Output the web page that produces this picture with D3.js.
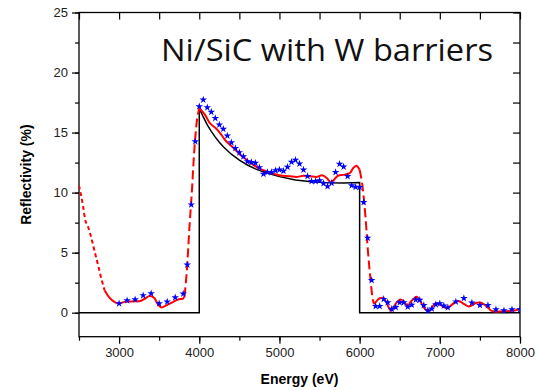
<!DOCTYPE html>
<html>
<head>
<meta charset="utf-8">
<script src="https://cdn.jsdelivr.net/npm/d3@7"></script>
<style>
  body { margin: 0; background: #fff; }
  svg { display: block; }
</style>
</head>
<body>
<svg width="537" height="390"></svg>
<script>
// measured points (stars)
var starE = [3000, 3100, 3200, 3300, 3400, 3500, 3600, 3700, 3800, 3850, 3900, 3950,
    4000, 4050, 4100, 4150, 4200, 4250, 4300, 4350, 4400, 4450, 4500, 4550, 4600, 4650,
    4700, 4750, 4800, 4850, 4900, 4950, 5000, 5050, 5100, 5150, 5200, 5250, 5300, 5350,
    5400, 5450, 5500, 5550, 5600, 5650, 5700, 5750, 5800, 5850, 5900, 5950, 6000, 6050,
    6100, 6150, 6200, 6250, 6300, 6350, 6400, 6450, 6500, 6550, 6600, 6650, 6700, 6750,
    6800, 6850, 6900, 6950, 7000, 7050, 7100, 7200, 7300, 7400, 7500, 7600, 7700, 7800,
    7900, 8000];
var starR = [0.77, 1.02, 1.1, 1.44, 1.6, 0.77, 0.91, 1.27, 1.58, 3.99, 9.0, 14.26,
    17.17, 17.73, 17.09, 16.71, 16.2, 15.65, 15.29, 14.74, 14.18, 13.7, 13.35, 13.0, 12.6, 12.52,
    12.47, 12.1, 11.55, 11.69, 11.69, 11.85, 11.91, 11.8, 12.13, 12.55, 12.72, 12.41, 11.91, 11.36,
    10.94, 10.94, 11.0, 10.77, 10.52, 10.8, 11.69, 12.39, 12.16, 11.36, 10.6, 10.47, 10.44, 9.19,
    6.23, 2.7, 0.53, 0.53, 1.13, 0.85, 0.3, 0.45, 0.85, 0.85, 0.5, 0.65, 1.07, 1.05,
    0.61, 0.19, 0.33, 0.68, 0.77, 0.58, 0.43, 0.92, 1.2, 0.83, 0.62, 0.62, 0.26, 0.19,
    0.27, 0.27];

// ideal model (black)
var idealE = [2500, 4000, 4000, 4050, 4100, 4150, 4200, 4250, 4300, 4400, 4500, 4600, 4700,
    4800, 4900, 5000, 5200, 5400, 5600, 5800, 6000, 6000, 8000];
var idealR = [0, 0, 17.0, 16.3, 15.65, 15.1, 14.62, 14.2, 13.82, 13.2, 12.7, 12.3, 11.98,
    11.73, 11.52, 11.33, 11.05, 10.9, 10.82, 10.8, 10.85, 0, 0];

// fitted curve (red), split into dashed and solid pieces
var fit1E = [2500, 2550, 2575, 2610, 2655, 2695, 2740, 2780, 2820];
var fit1R = [10.6, 8.9, 7.8, 7.2, 6.2, 5.1, 3.9, 2.8, 1.85];
var fit2E = [2820, 2880, 2945, 3000, 3070, 3150, 3255, 3320, 3380, 3435, 3485, 3527, 3590,
    3670, 3735, 3795, 3817];
var fit2R = [1.85, 1.25, 0.88, 0.77, 0.9, 0.94, 0.96, 1.16, 1.38, 1.25, 0.69, 0.44, 0.61,
    0.88, 1.1, 1.16, 1.38];
var fit3E = [3817, 3850, 3880, 3905, 3933, 3967, 4000];
var fit3R = [1.38, 4.0, 7.4, 9.8, 13.0, 15.8, 17.0];
var fit4E = [4000, 4070, 4130, 4200, 4260, 4320, 4380, 4450, 4510, 4590, 4670, 4760, 4840,
    4920, 5000, 5090, 5130, 5210, 5300, 5380, 5460, 5530, 5590, 5640, 5670, 5730, 5815, 5880,
    5920, 5960, 6000];
var fit4R = [17.0, 16.5, 15.8, 15.4, 14.96, 14.4, 14.0, 13.57, 13.16, 12.74, 12.33, 11.97, 11.77,
    11.58, 11.45, 11.38, 11.36, 11.3, 11.41, 11.36, 11.3, 11.44, 11.22, 10.86, 11.0, 11.41, 11.5, 11.64,
    12.05, 12.24, 11.9];
var fit5E = [6000, 6040, 6075, 6105, 6135, 6160, 6180];
var fit5R = [11.9, 10.3, 7.8, 5.0, 2.8, 1.25, 0.7];
var fit6E = [6180, 6210, 6250, 6290, 6335, 6375, 6400, 6420, 6460, 6510, 6545, 6585, 6606,
    6625, 6665, 6708, 6750, 6790, 6830, 6870, 6910, 6950, 7020, 7085, 7130, 7190, 7230, 7310,
    7360, 7460, 7500, 7580, 7645, 7710, 7830, 7940, 8000];
var fit6R = [0.7, 0.96, 1.2, 1.25, 0.83, 0.27, 0.15, 0.4, 0.83, 1.1, 0.96, 0.65, 0.5,
    0.8, 1.1, 1.33, 1.05, 0.55, 0.22, 0.15, 0.5, 0.8, 0.61, 0.38, 0.55, 0.88, 0.98, 0.69,
    0.52, 0.83, 0.85, 0.55, 0.15, 0.08, 0.13, 0.19, 0.33];

var xTicks = [3000, 4000, 5000, 6000, 7000, 8000];
var yTicks = [0, 5, 10, 15, 20, 25];
var titleText = "Ni/SiC with W barriers";

var svg = d3.select("svg");
var margin = { left: 79, right: 17, top: 12.5, bottom: 53.3 };
var width = 537 - margin.left - margin.right;
var height = 390 - margin.top - margin.bottom;

var x = d3.scaleLinear().domain([2500, 8000]).range([0, width]);
var y = d3.scaleLinear().domain([-2, 25]).range([height, 0]);

var g = svg.append("g").attr("transform", "translate(" + margin.left + "," + margin.top + ")");

g.append("clipPath").attr("id", "clip")
    .append("rect").attr("width", width).attr("height", height);

function pairs(xs, ys) {
    return xs.map(function (d, i) { return [d, ys[i]]; });
}

// axes
var minorX = d3.range(2500, 8001, 500);
var minorY = d3.range(-2.5, 25.1, 2.5).filter(function (d) { return d >= -2; });

function styleAxis(sel) {
    sel.select(".domain").remove();
    sel.selectAll("line").attr("stroke", "#000").attr("stroke-width", 1.2);
    sel.selectAll("text").attr("fill", "#222").attr("font-family", "Liberation Sans, Arial, sans-serif").attr("font-size", 13);
}

g.append("g").attr("transform", "translate(0," + height + ")")
    .call(d3.axisBottom(x).tickValues(minorX).tickSize(4).tickFormat(""))
    .call(styleAxis);
g.append("g").attr("transform", "translate(0," + height + ")")
    .call(d3.axisBottom(x).tickValues(xTicks).tickSize(7).tickPadding(4).tickFormat(d3.format("d")))
    .call(styleAxis);

g.append("g")
    .call(d3.axisLeft(y).tickValues(minorY).tickSize(4).tickFormat(""))
    .call(styleAxis);
g.append("g")
    .call(d3.axisLeft(y).tickValues(yTicks).tickSize(7).tickPadding(4).tickFormat(d3.format("d")))
    .call(styleAxis);

// top and right ticks point inward
g.append("g")
    .call(d3.axisBottom(x).tickValues(minorX).tickSize(7).tickFormat(""))
    .call(styleAxis);
g.append("g").attr("transform", "translate(" + width + ",0)")
    .call(d3.axisLeft(y).tickValues(minorY.filter(function (d) { return d > 0; })).tickSize(7).tickFormat(""))
    .call(styleAxis);

g.append("rect")
    .attr("width", width).attr("height", height)
    .attr("fill", "none").attr("stroke", "#000").attr("stroke-width", 1.3);

var plot = g.append("g").attr("clip-path", "url(#clip)");

var line = d3.line().x(function (d) { return x(d[0]); }).y(function (d) { return y(d[1]); });
var smooth = d3.line().curve(d3.curveMonotoneX)
    .x(function (d) { return x(d[0]); }).y(function (d) { return y(d[1]); });

plot.append("path")
    .datum(pairs(idealE, idealR))
    .attr("d", line)
    .attr("fill", "none").attr("stroke", "#000").attr("stroke-width", 1.5);

var fits = [
    { e: fit1E, r: fit1R, dash: "4,3" },
    { e: fit2E, r: fit2R, dash: null },
    { e: fit3E, r: fit3R, dash: "9,4" },
    { e: fit4E, r: fit4R, dash: null },
    { e: fit5E, r: fit5R, dash: "9,4" },
    { e: fit6E, r: fit6R, dash: null }
];
fits.forEach(function (f) {
    plot.append("path")
        .datum(pairs(f.e, f.r))
        .attr("d", smooth)
        .attr("fill", "none").attr("stroke", "#ff0000").attr("stroke-width", 2)
        .attr("stroke-dasharray", f.dash);
});

plot.selectAll(".star")
    .data(pairs(starE, starR))
    .enter().append("path")
    .attr("class", "star")
    .attr("transform", function (d) { return "translate(" + x(d[0]) + "," + y(d[1]) + ")"; })
    .attr("d", d3.symbol().type(d3.symbolStar).size(18))
    .attr("fill", "#0000ff");

// labels
svg.append("text")
    .attr("x", 161).attr("y", 61)
    .attr("font-family", "Open Sans, sans-serif").attr("font-size", 31)
    .attr("textLength", 332).attr("lengthAdjust", "spacingAndGlyphs")
    .attr("fill", "#111")
    .text(titleText);

svg.append("text")
    .attr("x", margin.left + width / 2).attr("y", 384)
    .attr("text-anchor", "middle")
    .attr("font-family", "Liberation Sans, Arial, sans-serif").attr("font-size", 14).attr("font-weight", "bold")
    .text("Energy (eV)");

svg.append("text")
    .attr("transform", "translate(31," + (margin.top + height / 2) + ") rotate(-90)")
    .attr("text-anchor", "middle")
    .attr("font-family", "Liberation Sans, Arial, sans-serif").attr("font-size", 14).attr("font-weight", "bold")
    .text("Reflectivity (%)");
</script>
</body>
</html>
